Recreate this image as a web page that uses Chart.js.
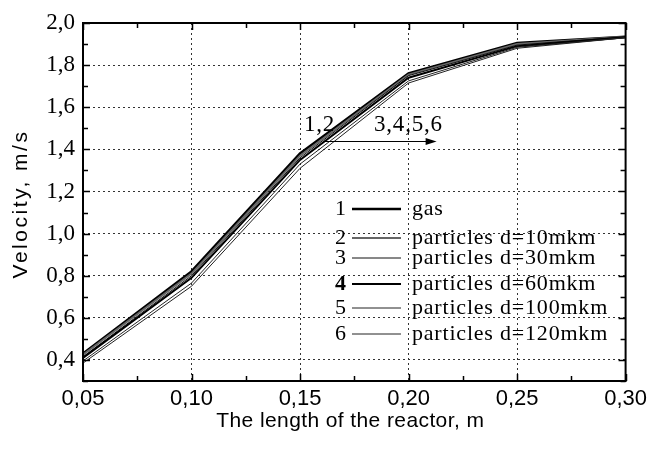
<!DOCTYPE html>
<html><head><meta charset="utf-8">
<script src="https://cdn.jsdelivr.net/npm/chart.js@4/dist/chart.umd.min.js"></script>
<style>html,body{margin:0;padding:0;background:#fff}#wrap{width:652px;height:450px}</style>
</head><body><div id="wrap"><canvas id="c" width="652" height="450"></canvas></div>
<script>
const xValues = [0.05, 0.10, 0.15, 0.20, 0.25, 0.30];
const gas   = [0.43, 0.82, 1.38, 1.76, 1.905, 1.935];
const d10   = [0.425, 0.81, 1.37, 1.755, 1.90, 1.935];
const d30   = [0.415, 0.80, 1.36, 1.75, 1.895, 1.935];
const d60   = [0.41, 0.79, 1.35, 1.74, 1.89, 1.932];
const d100  = [0.395, 0.765, 1.33, 1.725, 1.885, 1.93];
const d120  = [0.385, 0.75, 1.31, 1.715, 1.88, 1.93];
const seriesNames = ['gas','particles d=10mkm','particles d=30mkm','particles d=60mkm','particles d=100mkm','particles d=120mkm'];
const seriesNums = ['1','2','3','4','5','6'];
const yTicks = [0.4,0.6,0.8,1.0,1.2,1.4,1.6,1.8,2.0];
const xTicks = [0.05,0.10,0.15,0.20,0.25,0.30];
const xTitle = 'The length of the reactor, m';
const yTitle = 'Velocity, m/s';
const annLeft = '1,2';
const annRight = '3,4,5,6';

const styles = [
  {w:2.6, c:'#000'},
  {w:2.0, c:'#666'},
  {w:1.0, c:'#111'},
  {w:2.0, c:'#000'},
  {w:1.0, c:'#222'},
  {w:1.0, c:'#222'}
];
const allSeries = [gas,d10,d30,d60,d100,d120];
const datasets = allSeries.map((s,i)=>({
  label: seriesNames[i],
  data: xValues.map((x,j)=>({x:x,y:s[j]})),
  borderColor: styles[i].c, borderWidth: styles[i].w,
  pointRadius:0, tension:0, fill:false
})).reverse();

const SERIF = '"Liberation Serif","Times New Roman",serif';
const SANS = '"Liberation Sans",Arial,sans-serif';

const framePlugin = {
  id:'frame',
  afterDraw(chart){
    const ctx = chart.ctx, a = chart.chartArea;
    const xs = chart.scales.x, ys = chart.scales.y;
    ctx.save();
    ctx.strokeStyle='#000'; ctx.lineWidth=2;
    ctx.strokeRect(a.left, a.top, a.right-a.left, a.bottom-a.top);
    ctx.lineWidth=1.5;
    for(let k=0;k<=10;k++){
      const v = 0.05 + k*0.025;
      const px = Math.round(xs.getPixelForValue(v))+0.5;
      const L = (k%2===0)?7:5;
      ctx.beginPath();
      ctx.moveTo(px,a.bottom); ctx.lineTo(px,a.bottom-L);
      ctx.moveTo(px,a.top); ctx.lineTo(px,a.top+L);
      ctx.stroke();
    }
    for(let k=0;k<=17;k++){
      const v = 0.3 + k*0.1;
      const py = Math.round(ys.getPixelForValue(v))+0.5;
      const L = (k%2===1)?7:5;
      ctx.beginPath();
      ctx.moveTo(a.left,py); ctx.lineTo(a.left+L,py);
      ctx.moveTo(a.right,py); ctx.lineTo(a.right-L,py);
      ctx.stroke();
    }
    ctx.fillStyle='#000';
    ctx.font='21px '+SANS;
    ctx.textAlign='center'; ctx.textBaseline='middle';
    try{ ctx.letterSpacing='0.4px'; }catch(e){}
    ctx.fillText(xTitle, (a.left+a.right)/2 - 4, 421);
    ctx.save();
    ctx.translate(21, (a.top+a.bottom)/2+2);
    ctx.rotate(-Math.PI/2);
    try{ ctx.letterSpacing='2.5px'; }catch(e){}
    ctx.fillText(yTitle, 0, 0);
    ctx.restore();
    try{ ctx.letterSpacing='0.8px'; }catch(e){}
    ctx.font='23px '+SERIF;
    ctx.textBaseline='alphabetic';
    ctx.textAlign='left';
    ctx.fillText(annLeft, 304, 131);
    ctx.fillText(annRight, 374, 131);
    const ay = Math.round(ys.getPixelForValue(1.442))+0.5;
    const ax1 = xs.getPixelForValue(0.161), ax2 = xs.getPixelForValue(0.212);
    ctx.lineWidth=1.2;
    ctx.beginPath(); ctx.moveTo(ax1,ay); ctx.lineTo(ax2,ay); ctx.stroke();
    ctx.beginPath(); ctx.moveTo(ax2+2,ay); ctx.lineTo(ax2-9,ay-3.5); ctx.lineTo(ax2-9,ay+3.5); ctx.closePath(); ctx.fill();
    const rows = [209, 238, 258, 284, 308, 334];
    for(let i=0;i<6;i++){
      const y = rows[i];
      ctx.textAlign='right'; ctx.textBaseline='middle';
      try{ ctx.letterSpacing='0px'; }catch(e){}
      ctx.font=(i===3?'bold ':'')+'22px '+SERIF;
      ctx.fillText(seriesNums[i], 346, y);
      ctx.strokeStyle=styles[i].c; ctx.lineWidth=styles[i].w;
      ctx.beginPath(); ctx.moveTo(352, y); ctx.lineTo(401, y); ctx.stroke();
      ctx.textAlign='left';
      try{ ctx.letterSpacing='0.8px'; }catch(e){}
      ctx.font='22px '+SERIF;
      ctx.fillText(seriesNames[i], 412, y);
    }
    ctx.restore();
  }
};

new Chart(document.getElementById('c'), {
  type:'line',
  data:{datasets:datasets},
  options:{
    responsive:false, animation:false,
    layout:{padding:{top:23,right:26,left:0,bottom:0}},
    plugins:{legend:{display:false}, tooltip:{enabled:false}},
    scales:{
      x:{type:'linear', min:0.05, max:0.30,
        afterBuildTicks(s){ s.ticks = xTicks.map(v=>({value:v})); },
        afterFit(s){ s.height = 69; },
        ticks:{ color:'#000', font:{family:SANS,size:22}, padding:5,
          callback:(v)=>Number(v).toFixed(2).replace('.',','), maxRotation:0, autoSkip:false },
        grid:{ drawTicks:false, lineWidth:1,
          color:(c)=>{ const v=c.tick?c.tick.value:null; return (v===null||Math.abs(v-0.05)<1e-6||Math.abs(v-0.30)<1e-6)?'rgba(0,0,0,0)':'#333'; } },
        border:{display:false, dash:[2,3]}
      },
      y:{type:'linear', min:0.3, max:2.0,
        afterBuildTicks(s){ s.ticks = yTicks.map(v=>({value:v})); },
        afterFit(s){ s.width = 83; },
        ticks:{ color:'#000', font:{family:SERIF,size:23}, padding:8,
          callback:(v)=>Number(v).toFixed(1).replace('.',','), autoSkip:false },
        grid:{ drawTicks:false, lineWidth:1,
          color:(c)=>{ const v=c.tick?c.tick.value:null; return (v===null||Math.abs(v-2.0)<1e-6)?'rgba(0,0,0,0)':'#333'; } },
        border:{display:false, dash:[2,3]}
      }
    }
  },
  plugins:[framePlugin]
});
</script></body></html>
